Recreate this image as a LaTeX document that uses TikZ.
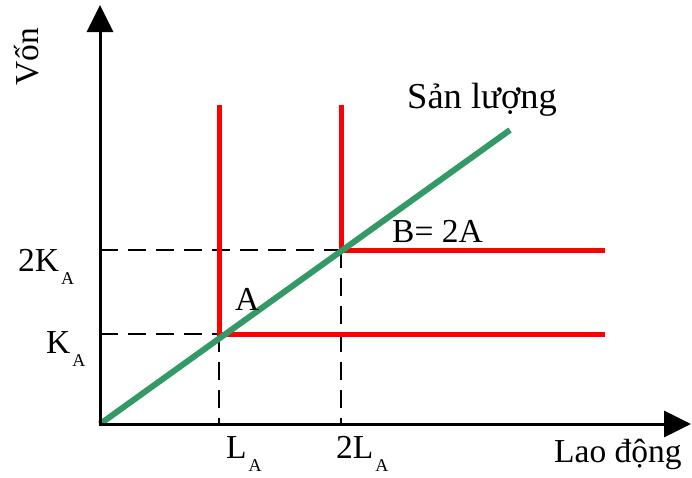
\documentclass[tikz,border=0pt]{standalone}
\usepackage{fontspec}
\setmainfont{Liberation Serif}
\usetikzlibrary{arrows.meta}
\definecolor{outgreen}{RGB}{51,153,102}
\newcommand\subA{\kern2pt\raisebox{-13pt}{\fontsize{18}{18}\selectfont A}}
\begin{document}
\begin{tikzpicture}[x=1pt,y=-1pt,
  axis/.style={line width=3pt,-{Triangle[length=27pt,width=26pt]}},
  guide/.style={line width=2.5pt,dash pattern=on 18pt off 10pt},
  iso/.style={line width=5pt,red},
  output/.style={line width=6pt,outgreen},
  lbl/.style={inner sep=0pt,anchor=base west,font=\fontsize{33.5}{38}\selectfont}]
\useasboundingbox (0,0) rectangle (692,477);
\coordinate (O) at (100,424);
\coordinate (A) at (219,334);
\coordinate (B) at (341,250);
\coordinate (Atop) at (219,105);
\coordinate (Btop) at (341,105);
\coordinate (Aend) at (605,334);
\coordinate (Bend) at (605,250);
\coordinate (Gend) at (510,130);
\coordinate (KA) at (100,334);
\coordinate (K2) at (100,250);
\coordinate (LA) at (219,424);
\coordinate (L2) at (341,424);
\coordinate (Ytip) at (100,5);
\coordinate (Xtip) at (691,424);
\coordinate (Ystart) at (100,425.5);
\coordinate (Xstart) at (98.5,424);
% guides
\draw[guide] (KA) -- (A);
\draw[guide] (K2) -- (B);
\draw[guide] (A) -- (LA);
\draw[guide] (B) -- (L2);
% isoquants
\draw[iso] (Atop) -- (A) -- (Aend);
\draw[iso] (Btop) -- (B) -- (Bend);
% output line
\draw[output] (O) -- (Gend);
% axes
\draw[axis] (Ystart) -- (Ytip);
\draw[axis] (Xstart) -- (Xtip);
% labels
\node[lbl,anchor=center,rotate=90] (von) at (27,57) {Vốn};
\node[lbl,font=\fontsize{36.5}{40}\selectfont] (sl) at (407,108) {Sản lượng};
\node[lbl] (bl) at (392,242) {B= 2A};
\node[lbl] (al) at (235,310) {A};
\node[lbl] (k2l) at (18,271) {2K\subA};
\node[lbl] (kal) at (46,353) {K\subA};
\node[lbl] (lal) at (226,458) {L\subA};
\node[lbl] (l2l) at (336,458) {2L\subA};
\node[lbl] (ld) at (554,462) {Lao động};
\end{tikzpicture}
\end{document}
